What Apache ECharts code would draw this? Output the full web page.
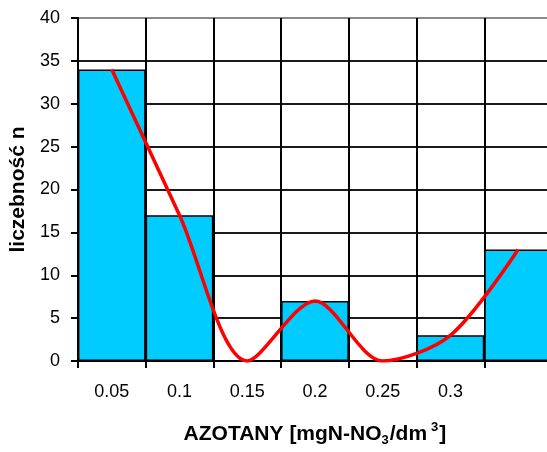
<!DOCTYPE html>
<html>
<head>
<meta charset="utf-8">
<script src="https://cdn.jsdelivr.net/npm/echarts@6/dist/echarts.min.js"></script>
<style>
  html, body { margin: 0; padding: 0; background: #fff; overflow: hidden; }
  /* plot area runs slightly past the right edge of the window */
  #chart { width: 552px; height: 452px; }
</style>
</head>
<body>
<div id="chart"></div>
<script>
// Class labels (last class has no label) and counts per class
const categories = ['0.05', '0.1', '0.15', '0.2', '0.25', '0.3', ''];
const counts = [34, 17, 0, 7, 0, 3, 13];
// Smoothed trend drawn through the same counts
const trend = [34, 17, 0, 7, 0, 3, 13];
const yTicks = { min: 0, max: 40, step: 5 };

const FONT = "'Liberation Sans', Arial, sans-serif";

// Horizontal grid colours, bottom to top (top border drawn lighter)
const gridColors = [];
for (let v = yTicks.min; v <= yTicks.max; v += yTicks.step) {
  gridColors.push(v === yTicks.max ? '#8a8a8a' : '#1a1a1a');
}

const chart = echarts.init(document.getElementById('chart'), null, { renderer: 'canvas' });
chart.setOption({
  animation: false,
  backgroundColor: '#ffffff',
  grid: { left: 76, right: 0, top: 18, bottom: 87, containLabel: false },
  xAxis: {
    type: 'category',
    data: categories,
    boundaryGap: true,
    axisLine: { show: true, lineStyle: { color: '#000', width: 2 } },
    axisTick: { show: true, length: 7, inside: false, lineStyle: { color: '#000', width: 2 } },
    axisLabel: { color: '#000', fontFamily: FONT, fontSize: 18, margin: 22 },
    splitLine: { show: true, lineStyle: { color: '#000', width: 2 } },
    name: '{b|AZOTANY [mgN-NO}{sub|3}{b|/dm}{sup|3}{b|]}',
    nameLocation: 'middle',
    nameGap: 60,
    nameTextStyle: {
      rich: {
        b: { fontFamily: FONT, fontWeight: 'bold', fontSize: 21, color: '#000', lineHeight: 26 },
        sub: { fontFamily: FONT, fontWeight: 'bold', fontSize: 13, color: '#000', verticalAlign: 'bottom', lineHeight: 26, padding: [8, 1, 0, 0] },
        sup: { fontFamily: FONT, fontWeight: 'bold', fontSize: 13, color: '#000', verticalAlign: 'top', lineHeight: 26, padding: [0, 1, 8, 4] }
      }
    }
  },
  yAxis: {
    type: 'value',
    min: yTicks.min,
    max: yTicks.max,
    interval: yTicks.step,
    axisLine: { show: true, lineStyle: { color: '#000', width: 2 } },
    axisTick: { show: true, length: 7, inside: false, lineStyle: { color: '#000', width: 2 } },
    axisLabel: { color: '#000', fontFamily: FONT, fontSize: 18, margin: 18 },
    splitLine: { show: true, lineStyle: { color: gridColors, width: 2 } },
    name: 'liczebność n',
    nameLocation: 'middle',
    nameGap: 47,
    nameTextStyle: { fontFamily: FONT, fontWeight: 'bold', fontSize: 21, color: '#000' }
  },
  series: [
    {
      type: 'bar',
      data: counts,
      barCategoryGap: '0%',
      itemStyle: { color: '#00ccff', borderColor: '#000', borderWidth: 1.5 },
      z: 2
    },
    {
      type: 'line',
      data: trend,
      smooth: 0.3,
      symbol: 'none',
      lineStyle: { color: '#ff0000', width: 3.5 },
      z: 5
    }
  ]
});
</script>
</body>
</html>
